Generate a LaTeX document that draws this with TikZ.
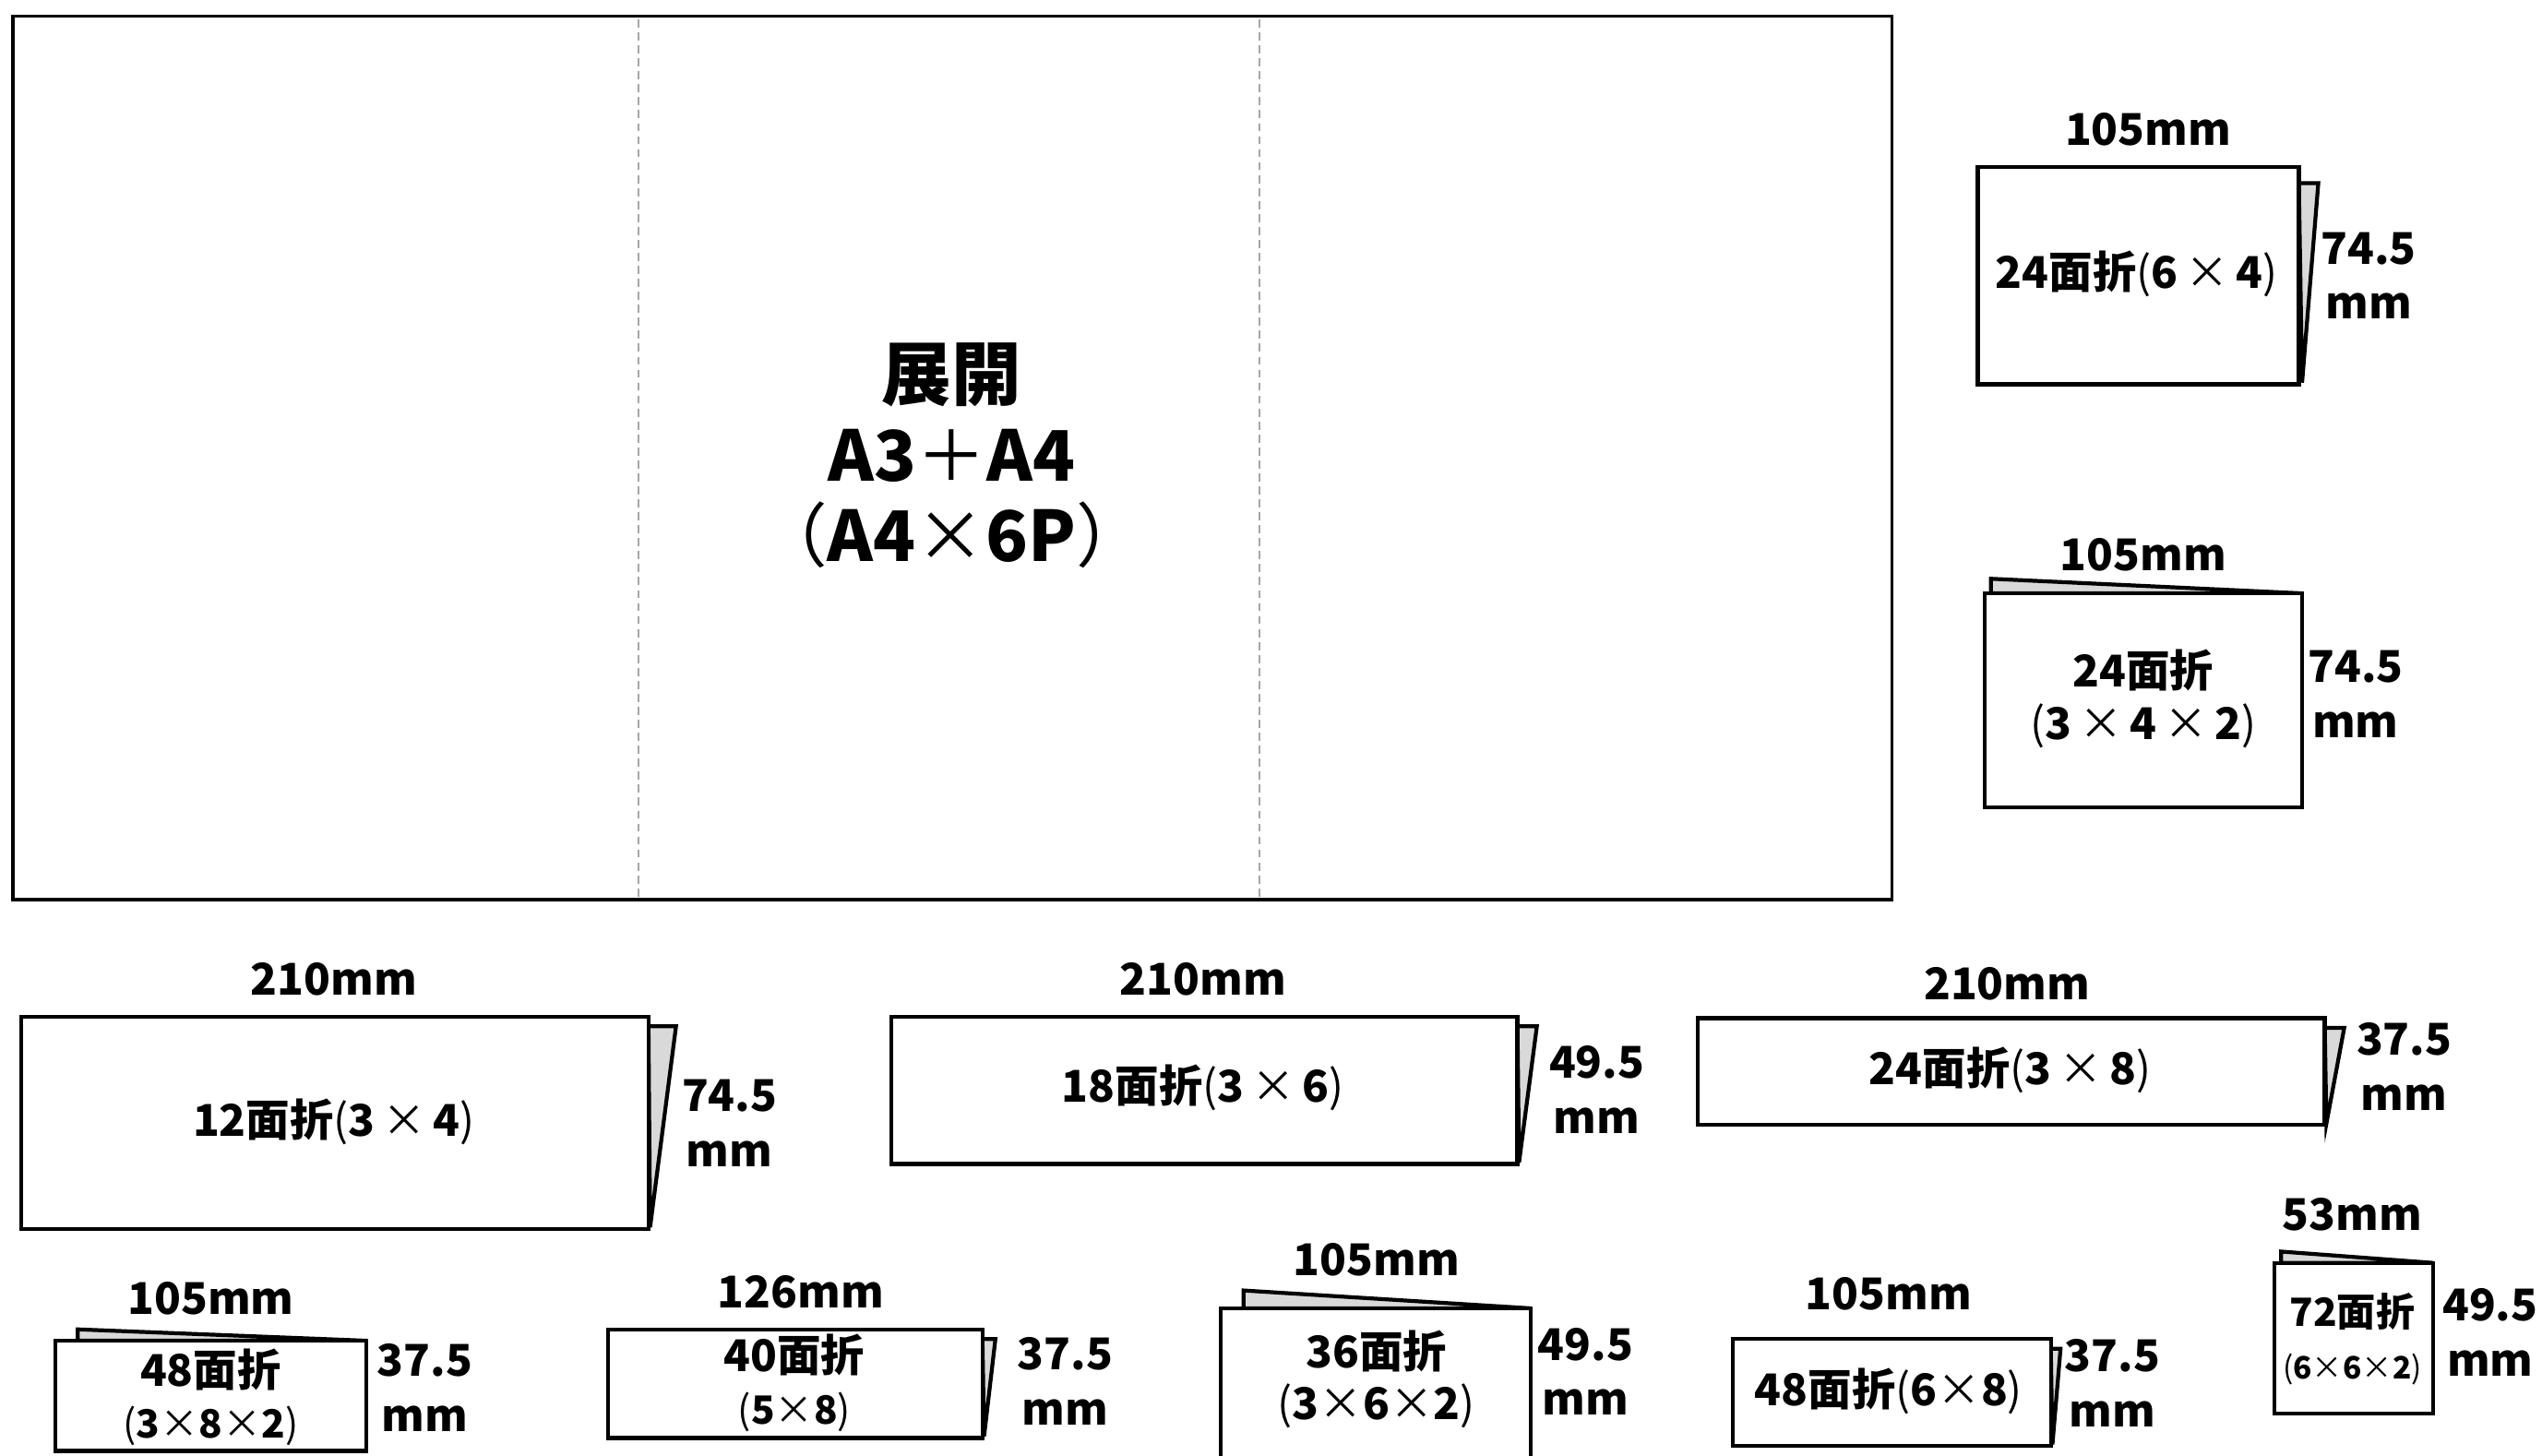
\documentclass[tikz,border=0pt]{standalone}
\usepackage{fontspec}
\setmainfont{Noto Sans CJK JP}
\newcommand\tx{{\normalfont ×}}
\newcommand\lp{{\normalfont (}}
\newcommand\rp{{\normalfont )}}
\definecolor{backgray}{RGB}{217,217,217}
\begin{document}
\begin{tikzpicture}[x=0.5pt,y=-0.5pt,
  sheet/.style={draw=black,line width=1.2pt,fill=white},
  backsheet/.style={draw=black,line width=1.2pt,fill=backgray,line join=miter},
  foldline/.style={draw=gray!70,line width=0.6pt,dash pattern=on 2.5pt off 1.5pt},
  bigsheet/.style={draw=black,line width=1pt},
  lbl/.style={font=\fontsize{13.5}{17}\selectfont\bfseries,inner sep=0pt,align=center},
  inlbl/.style={font=\fontsize{13.5}{16}\selectfont\bfseries,inner sep=0pt,align=center},
  titlelbl/.style={font=\fontsize{21.5}{25}\selectfont\bfseries,inner sep=0pt,align=center}]
\clip (0,0) rectangle (1568,898);
\fill[white] (0,0) rectangle (1568,898);

% unfolded sheet
\draw[bigsheet] (8,10) rectangle (1167,555);
\coordinate (f1t) at (394,12); \coordinate (f1b) at (394,553);
\coordinate (f2t) at (777,12); \coordinate (f2b) at (777,553);
\draw[foldline] (f1t) -- (f1b);
\draw[foldline] (f2t) -- (f2b);
\node[titlelbl] (tenkai) at (587,281) {展開\\A3{\normalfont ＋}A4\\{\normalfont （}A4{\normalfont ×}6P{\normalfont ）}};

% right column, top
\draw[backsheet] (1418,113) -- (1430,113) -- (1420,236) -- cycle;
\draw[sheet] (1220,103) rectangle (1418,237);
\node[inlbl] (r1t) at (1318,169) {24面折\lp 6\,\tx\,4\rp};
\node[lbl] (r1w) at (1325,80) {105mm};
\node[lbl] (r1h) at (1461,170) {74.5\\mm};

% right column, second
\draw[backsheet] (1228,366) -- (1228,357) -- (1420,366) -- cycle;
\draw[sheet] (1224,366) rectangle (1420,498);
\node[inlbl] (r2t) at (1322,431) {24面折\\\lp 3\,\tx\,4\,\tx\,2\rp};
\node[lbl] (r2w) at (1322,342) {105mm};
\node[lbl] (r2h) at (1453,428) {74.5\\mm};

% row 2 A
\draw[backsheet] (400,633) -- (417,633) -- (401,757) -- cycle;
\draw[sheet] (13,627) rectangle (400,758);
\node[inlbl] (at) at (206,692) {12面折\lp 3\,\tx\,4\rp};
\node[lbl] (aw) at (206,604) {210mm};
\node[lbl] (ah) at (450,693) {74.5\\mm};

% row 2 B
\draw[backsheet] (936,633) -- (948,633) -- (937,717) -- cycle;
\draw[sheet] (550,627) rectangle (936,718);
\node[inlbl] (bt) at (742,671) {18面折\lp 3\,\tx\,6\rp};
\node[lbl] (bw) at (742,604) {210mm};
\node[lbl] (bh) at (985,672) {49.5\\mm};

% row 2 C
\draw[backsheet] (1434,634) -- (1446,634) -- (1435,693) -- cycle;
\draw[sheet] (1047,628) rectangle (1434,694);
\node[inlbl] (ct) at (1240,660) {24面折\lp 3\,\tx\,8\rp};
\node[lbl] (cw) at (1238,607) {210mm};
\node[lbl] (ch) at (1483,658) {37.5\\mm};

% row 3 D
\draw[backsheet] (48,827) -- (48,820) -- (226,827) -- cycle;
\draw[sheet] (34,827) rectangle (226,895);
\node[inlbl] (dt) at (130,862) {48面折\\{\fontsize{12}{14}\selectfont\lp 3\tx 8\tx 2\rp}};
\node[lbl] (dw) at (130,801) {105mm};
\node[lbl] (dh) at (262,856) {37.5\\mm};

% row 3 E
\draw[backsheet] (606,826) -- (614,826) -- (607,886) -- cycle;
\draw[sheet] (375,820) rectangle (606,887);
\node[inlbl] (et) at (490,853) {40面折\\{\fontsize{12}{14}\selectfont\lp 5\tx 8\rp}};
\node[lbl] (ew) at (494,797) {126mm};
\node[lbl] (eh) at (657,852) {37.5\\mm};

% row 3 F
\draw[backsheet] (767,807) -- (767,796) -- (944,807) -- cycle;
\draw[sheet] (753,807) rectangle (944,915);
\node[inlbl] (ft) at (849,851) {36面折\\\lp 3\tx 6\tx 2\rp};
\node[lbl] (fw) at (849,777) {105mm};
\node[lbl] (fh) at (978,846) {49.5\\mm};

% row 3 G
\draw[backsheet] (1265,832) -- (1271,832) -- (1266,891) -- cycle;
\draw[sheet] (1069,826) rectangle (1265,892);
\node[inlbl] (gt) at (1165,858) {48面折\lp 6\tx 8\rp};
\node[lbl] (gw) at (1165,798) {105mm};
\node[lbl] (gh) at (1303,853) {37.5\\mm};

% row 3 H
\draw[backsheet] (1407,779) -- (1407,772) -- (1501,779) -- cycle;
\draw[sheet] (1403,779) rectangle (1501,872);
\node[inlbl] (ht) at (1451,826) {{\fontsize{12}{14}\selectfont 72面折}\\{\fontsize{9.5}{12}\selectfont\lp 6\tx 6\tx 2\rp}};
\node[lbl] (hw) at (1451,749) {53mm};
\node[lbl] (hh) at (1536,822) {49.5\\mm};
\end{tikzpicture}
\end{document}
